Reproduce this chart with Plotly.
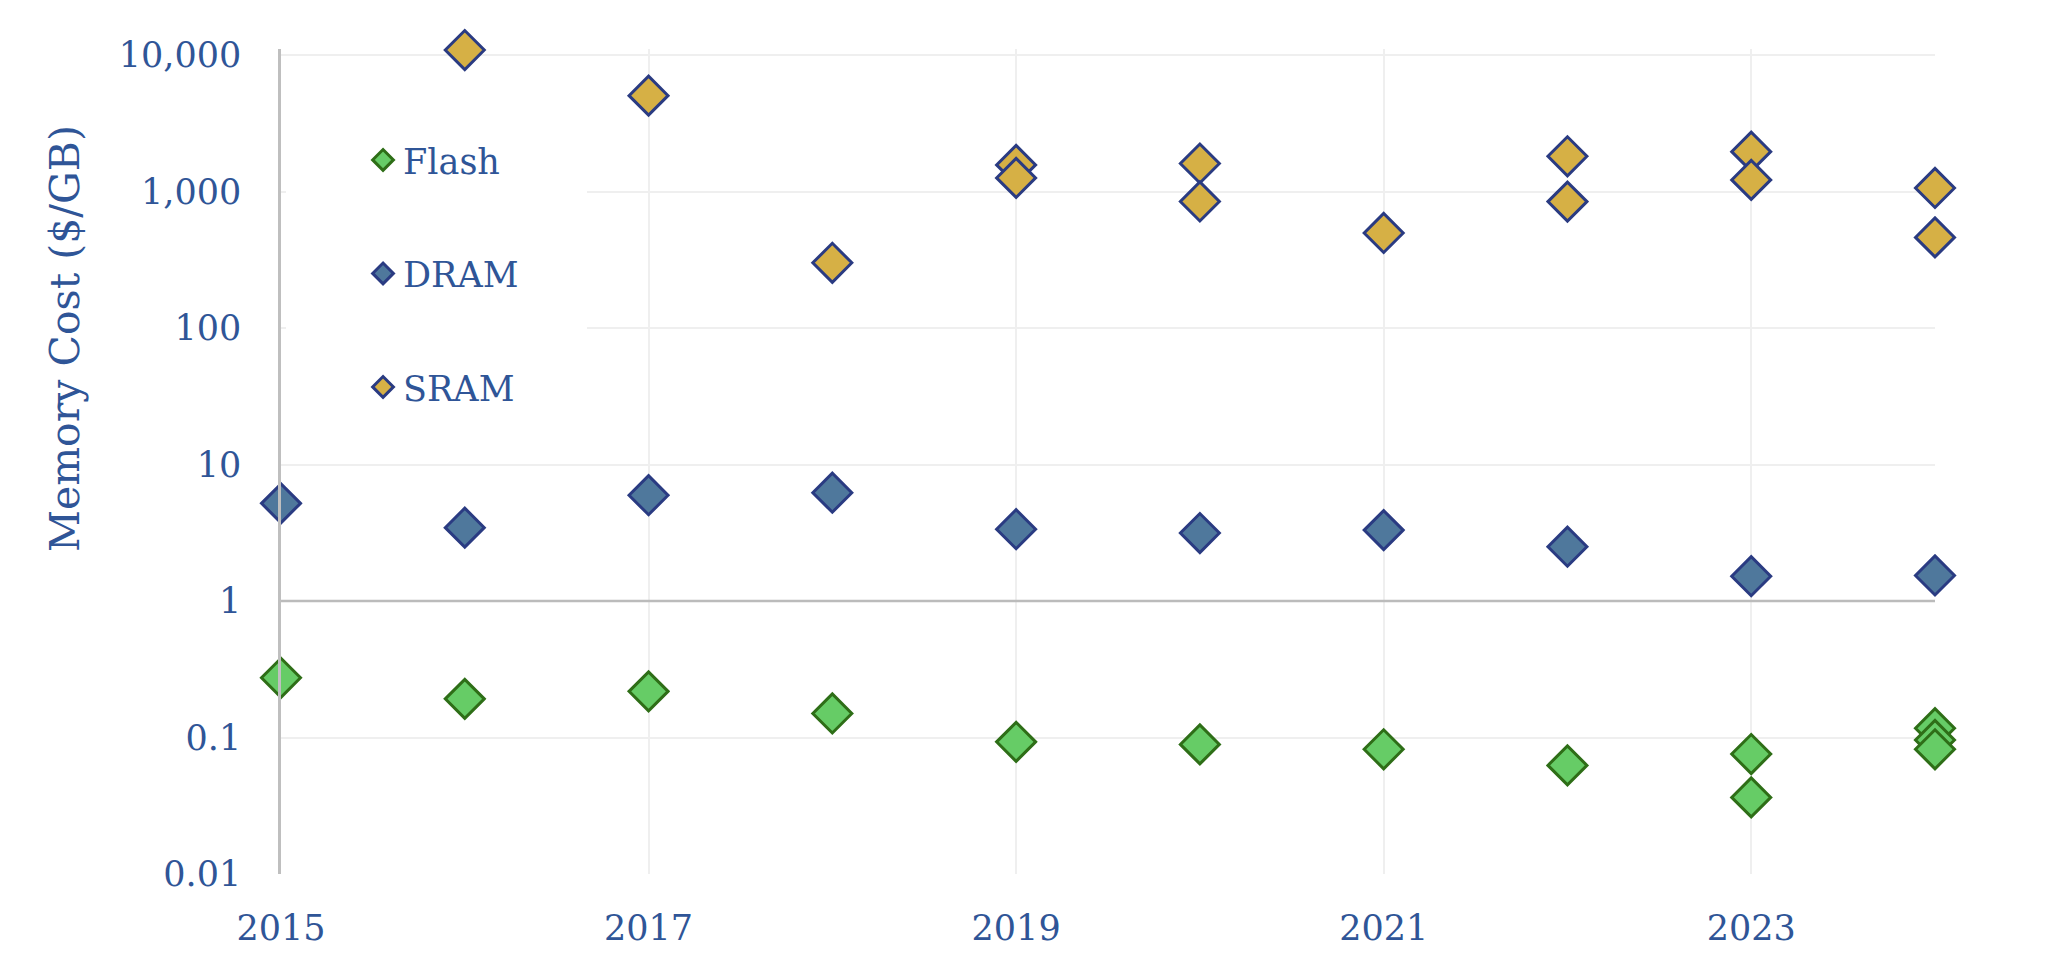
import plotly.graph_objects as go

# ---- data ----
flash_years = [2015, 2016, 2017, 2018, 2019, 2020, 2021, 2022, 2023, 2023, 2024, 2024, 2024]
flash_cost = [0.274, 0.192, 0.218, 0.150, 0.093, 0.089, 0.082, 0.0625, 0.0757, 0.0364, 0.117, 0.096, 0.082]

dram_years = [2015, 2016, 2017, 2018, 2019, 2020, 2021, 2022, 2023, 2024]
dram_cost = [5.2, 3.45, 5.96, 6.22, 3.36, 3.15, 3.31, 2.50, 1.52, 1.54]

sram_years = [2016, 2017, 2018, 2019, 2019, 2020, 2020, 2021, 2022, 2022, 2023, 2023, 2024, 2024]
sram_cost = [10900, 5050, 301, 1570, 1260, 1607, 847, 498, 1815, 845, 1963, 1218, 1064, 462]

x_ticks = [2015, 2017, 2019, 2021, 2023]
y_ticks = [0.01, 0.1, 1, 10, 100, 1000, 10000]
y_tick_text = ["0.01", "0.1", "1", "10", "100", "1,000", "10,000"]

FONT = "DejaVu Serif"
TXT = "#2F5597"

fig = go.Figure()

series = [
    ("Flash", flash_years, flash_cost, "#66CC66", "#2E6E17"),
    ("DRAM", dram_years, dram_cost, "#4F789C", "#2A3B82"),
    ("SRAM", sram_years, sram_cost, "#D6B045", "#2A3B82"),
]
for name, xs, ys, fill, edge in series:
    fig.add_trace(go.Scatter(
        x=xs, y=ys, name=name, mode="markers",
        legendgroup=name,
        marker=dict(symbol="diamond", size=30, color=fill,
                    line=dict(color=edge, width=3)),
        cliponaxis=False,
    ))

# white panel behind legend (covers gridlines)
fig.add_shape(type="rect", xref="paper", yref="paper",
              x0=0.003, x1=0.185, y0=0.53, y1=0.95,
              fillcolor="white", line=dict(width=0), layer="above")

# darker horizontal line at 1
fig.add_shape(type="line", xref="paper", yref="y", x0=0, x1=1, y0=1, y1=1,
              line=dict(color="#BBBBBB", width=2.5), layer="above")

fig.update_layout(
    width=2048, height=975,
    margin=dict(l=281, r=113, t=49, b=101),
    paper_bgcolor="white", plot_bgcolor="white",
    font=dict(family=FONT, color=TXT, size=35),
    showlegend=True,
    legend=dict(x=0.0496, y=0.901, xanchor="left", yanchor="top",
                bgcolor="rgba(0,0,0,0)", font=dict(size=35, color=TXT),
                traceorder="grouped", tracegroupgap=65,
                itemsizing="trace"),
    xaxis=dict(range=[2015, 2024], tickvals=x_ticks, showgrid=True,
               gridcolor="#EFEFEF", gridwidth=2, zeroline=False,
               showline=False, ticks="", ticklabelstandoff=30,
               tickfont=dict(size=35, color=TXT)),
    yaxis=dict(type="log", range=[-2, 4.045], tickvals=y_ticks, ticktext=y_tick_text,
               showgrid=True, gridcolor="#EFEFEF", gridwidth=2, zeroline=False,
               showline=True, linecolor="#BFBFBF", linewidth=2.5,
               ticks="", ticklabelstandoff=30,
               tickfont=dict(size=35, color=TXT)),
    annotations=[dict(text="Memory Cost ($/GB)", xref="paper", yref="paper",
                      x=-0.1306, y=0.6496, xanchor="center", yanchor="middle",
                      textangle=-90, showarrow=False,
                      font=dict(size=41, color=TXT, family=FONT))],
)

fig.write_html("out.html")
